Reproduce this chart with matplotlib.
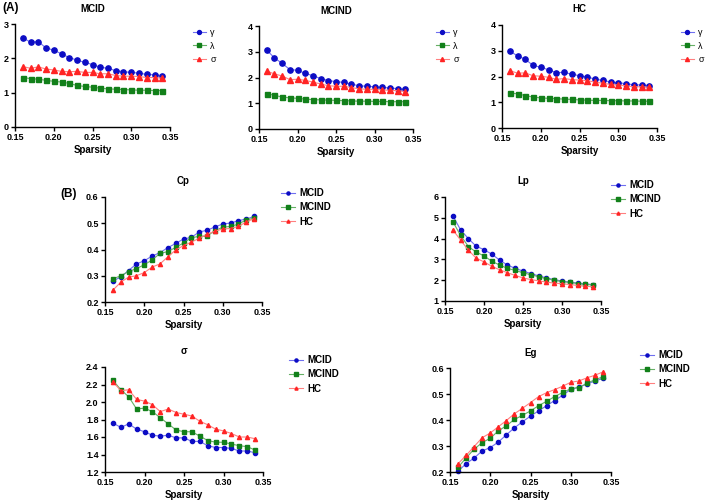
import matplotlib
matplotlib.use("Agg")
import matplotlib.pyplot as plt
import numpy as np

plt.rcParams['font.family'] = ['Liberation Sans', 'DejaVu Sans']
plt.rcParams['font.weight'] = 'bold'

sparsity = [0.16, 0.17, 0.18, 0.19, 0.20, 0.21, 0.22, 0.23, 0.24, 0.25,
            0.26, 0.27, 0.28, 0.29, 0.30, 0.31, 0.32, 0.33, 0.34]

# Panel A: small-world parameters per group
mcid_gamma = [2.60, 2.47, 2.49, 2.30, 2.24, 2.13, 2.02, 1.95, 1.88, 1.82, 1.74, 1.71, 1.64, 1.61, 1.59, 1.57, 1.53, 1.52, 1.50]
mcid_lambda = [1.44, 1.41, 1.39, 1.36, 1.33, 1.31, 1.27, 1.21, 1.18, 1.16, 1.13, 1.11, 1.10, 1.09, 1.08, 1.07, 1.07, 1.06, 1.06]
mcind_gamma = [3.07, 2.76, 2.55, 2.31, 2.28, 2.16, 2.07, 1.96, 1.88, 1.84, 1.81, 1.74, 1.68, 1.66, 1.64, 1.62, 1.59, 1.57, 1.54]
mcind_lambda = [1.37, 1.31, 1.24, 1.21, 1.19, 1.16, 1.14, 1.13, 1.12, 1.11, 1.10, 1.09, 1.08, 1.08, 1.07, 1.07, 1.06, 1.06, 1.06]
hc_gamma = [2.99, 2.80, 2.67, 2.43, 2.36, 2.26, 2.15, 2.16, 2.09, 2.03, 1.98, 1.90, 1.85, 1.79, 1.76, 1.72, 1.68, 1.67, 1.65]
hc_lambda = [1.35, 1.33, 1.26, 1.20, 1.17, 1.15, 1.14, 1.12, 1.11, 1.09, 1.08, 1.07, 1.07, 1.06, 1.06, 1.05, 1.05, 1.04, 1.04]

# sigma (shared between panel A and panel B)
mcid_sigma = [1.76, 1.71, 1.75, 1.69, 1.66, 1.62, 1.61, 1.62, 1.59, 1.59, 1.55, 1.55, 1.50, 1.48, 1.48, 1.47, 1.44, 1.44, 1.42]
mcind_sigma = [2.25, 2.14, 2.06, 1.92, 1.93, 1.89, 1.82, 1.75, 1.68, 1.66, 1.66, 1.61, 1.56, 1.54, 1.54, 1.52, 1.50, 1.49, 1.45]
hc_sigma = [2.23, 2.13, 2.14, 2.03, 2.01, 1.97, 1.89, 1.92, 1.88, 1.86, 1.84, 1.78, 1.74, 1.69, 1.67, 1.64, 1.60, 1.60, 1.58]

# Panel B
cp_mcid = [0.280, 0.295, 0.320, 0.345, 0.357, 0.375, 0.388, 0.407, 0.423, 0.440, 0.446, 0.467, 0.473, 0.486, 0.497, 0.501, 0.510, 0.516, 0.526]
cp_mcind = [0.288, 0.300, 0.316, 0.327, 0.342, 0.360, 0.385, 0.392, 0.408, 0.425, 0.445, 0.450, 0.451, 0.472, 0.485, 0.488, 0.497, 0.513, 0.519]
cp_hc = [0.245, 0.275, 0.295, 0.300, 0.312, 0.333, 0.345, 0.372, 0.398, 0.415, 0.428, 0.443, 0.458, 0.470, 0.478, 0.480, 0.488, 0.505, 0.518]

lp_mcid = [5.10, 4.42, 4.00, 3.63, 3.47, 3.25, 2.97, 2.73, 2.57, 2.44, 2.32, 2.21, 2.11, 2.03, 1.96, 1.91, 1.86, 1.82, 1.79]
lp_mcind = [4.82, 4.15, 3.62, 3.35, 3.17, 2.91, 2.73, 2.57, 2.47, 2.36, 2.26, 2.17, 2.07, 2.00, 1.93, 1.89, 1.84, 1.80, 1.77]
lp_hc = [4.42, 3.93, 3.44, 3.06, 2.88, 2.67, 2.50, 2.36, 2.23, 2.11, 2.03, 1.97, 1.91, 1.86, 1.83, 1.79, 1.75, 1.71, 1.68]

eg_mcid = [0.203, 0.232, 0.254, 0.281, 0.294, 0.315, 0.343, 0.370, 0.393, 0.415, 0.435, 0.455, 0.475, 0.495, 0.518, 0.526, 0.538, 0.550, 0.560]
eg_mcind = [0.218, 0.254, 0.288, 0.313, 0.330, 0.358, 0.378, 0.402, 0.418, 0.435, 0.455, 0.472, 0.490, 0.506, 0.520, 0.525, 0.541, 0.555, 0.566]
eg_hc = [0.232, 0.264, 0.298, 0.332, 0.350, 0.374, 0.398, 0.424, 0.445, 0.467, 0.490, 0.505, 0.517, 0.530, 0.545, 0.550, 0.562, 0.572, 0.585]

xticks = [0.15, 0.20, 0.25, 0.30, 0.35]

W, H = 709, 501
fig = plt.figure(figsize=(W / 100, H / 100), dpi=100)

BLUE_M, BLUE_L = '#0c0cc4', '#7070f0'
GREEN_M, GREEN_L = '#12801a', '#66b066'
RED_M, RED_L = '#ff2424', '#ff8080'
styles = [('o', BLUE_M, BLUE_L), ('s', GREEN_M, GREEN_L), ('^', RED_M, RED_L)]


def make_ax(x0, x1, ytop, ybot):
    return fig.add_axes([x0 / W, (H - ybot) / H, (x1 - x0) / W, (ybot - ytop) / H])


def style_ax(ax, ylim, yticks, title, yfmt):
    ax.set_xlim(0.15, 0.35)
    ax.set_ylim(*ylim)
    ax.set_xticks(xticks)
    ax.set_xticklabels([f"{t:.2f}" for t in xticks])
    ax.set_yticks(yticks)
    ax.set_yticklabels([yfmt.format(t) for t in yticks])
    for s in ['top', 'right']:
        ax.spines[s].set_visible(False)
    for s in ['left', 'bottom']:
        ax.spines[s].set_linewidth(1.0)
    ax.tick_params(axis='both', labelsize=6.5, length=3, width=1.0, pad=1.5)
    for lbl in ax.get_xticklabels() + ax.get_yticklabels():
        lbl.set_fontweight('bold')
    ax.set_xlabel('Sparsity', fontsize=7, fontweight='bold', labelpad=2)
    ax.set_title(title, fontsize=7, fontweight='bold', pad=9)


def plot_series(ax, series, labels, msizes, legend_anchor, lfs, lweight, lspacing):
    handles = []
    for (m, mc, lc), ys, lab, ms in zip(styles, series, labels, msizes):
        h, = ax.plot(sparsity, ys, marker=m, color=lc, markerfacecolor=mc,
                     markeredgecolor=mc, markersize=ms, linewidth=0.8, label=lab,
                     clip_on=False)
        handles.append(h)
    leg = fig.legend(handles=handles, loc='upper left',
                     bbox_to_anchor=(legend_anchor[0] / W, 1 - legend_anchor[1] / H),
                     frameon=False, handlelength=1.4, handletextpad=0.5,
                     labelspacing=lspacing, borderaxespad=0, borderpad=0,
                     prop={'weight': lweight, 'size': lfs}, markerscale=0.75)
    return leg


# Panel A
greek = ['γ', 'λ', 'σ']
msA = [3.8, 3.6, 3.9]
axA1 = make_ax(15, 170, 24, 127)
plot_series(axA1, [mcid_gamma, mcid_lambda, mcid_sigma], greek, msA, (193, 28), 6.5, 'normal', 0.5)
style_ax(axA1, (0, 3), [0, 1, 2, 3], 'MCID', '{:.0f}')

axA2 = make_ax(259, 413, 26, 129)
plot_series(axA2, [mcind_gamma, mcind_lambda, mcind_sigma], greek, msA, (436, 28), 6.5, 'normal', 0.5)
style_ax(axA2, (0, 4), [0, 1, 2, 3, 4], 'MCIND', '{:.0f}')

axA3 = make_ax(502, 657, 25, 128)
plot_series(axA3, [hc_gamma, hc_lambda, hc_sigma], greek, msA, (681, 28), 6.5, 'normal', 0.5)
style_ax(axA3, (0, 4), [0, 1, 2, 3, 4], 'HC', '{:.0f}')

groups = ['MCID', 'MCIND', 'HC']
msB = [3.0, 3.4, 3.0]

axB1 = make_ax(105, 262, 197, 302)
plot_series(axB1, [cp_mcid, cp_mcind, cp_hc], groups, msB, (281, 188), 7, 'bold', 0.45)
style_ax(axB1, (0.2, 0.6), [0.2, 0.3, 0.4, 0.5, 0.6], 'Cp', '{:.1f}')

axB2 = make_ax(445, 601, 197, 301)
plot_series(axB2, [lp_mcid, lp_mcind, lp_hc], groups, msB, (611, 180), 7, 'bold', 0.45)
style_ax(axB2, (1, 6), [1, 2, 3, 4, 5, 6], 'Lp', '{:.0f}')

axB3 = make_ax(105, 263, 367, 472)
plot_series(axB3, [mcid_sigma, mcind_sigma, hc_sigma], groups, msB, (289, 355), 7, 'bold', 0.45)
style_ax(axB3, (1.2, 2.4), [1.2, 1.4, 1.6, 1.8, 2.0, 2.2, 2.4], 'σ', '{:.1f}')

axB4 = make_ax(450, 611, 368, 472)
plot_series(axB4, [eg_mcid, eg_mcind, eg_hc], groups, msB, (640, 350), 7, 'bold', 0.45)
style_ax(axB4, (0.2, 0.6), [0.2, 0.3, 0.4, 0.5, 0.6], 'Eg', '{:.1f}')

fig.text(2 / W, 1 - 2 / H, '(A)', fontsize=8.5, fontweight='bold', va='top', ha='left')
fig.text(60 / W, 1 - 188 / H, '(B)', fontsize=8.5, fontweight='bold', va='top', ha='left')

fig.savefig('out.png', dpi=100)
